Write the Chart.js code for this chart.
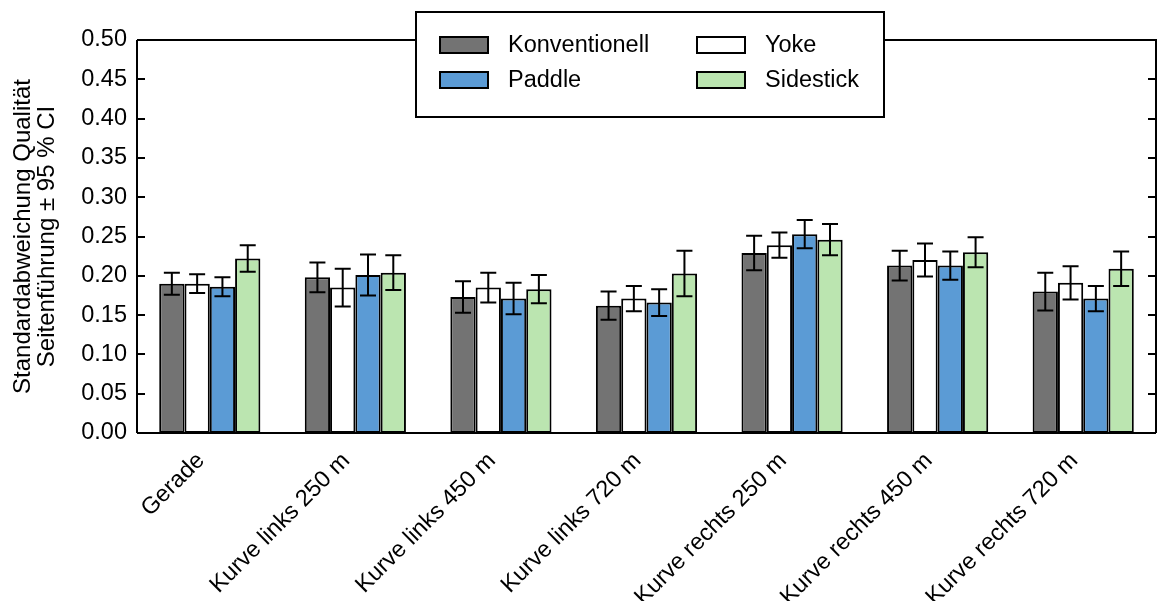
<!DOCTYPE html>
<html>
<head>
<meta charset="utf-8">
<script src="https://cdn.jsdelivr.net/npm/chart.js@4"></script>
<style>
  html, body { margin: 0; padding: 0; background: #fff; }
  #wrap { width: 1158px; height: 601px; }
</style>
</head>
<body>
<div id="wrap"><canvas id="chart" width="1158" height="601"></canvas></div>
<script>
// Data
const categories = ['Gerade', 'Kurve links 250 m', 'Kurve links 450 m', 'Kurve links 720 m',
    'Kurve rechts 250 m', 'Kurve rechts 450 m', 'Kurve rechts 720 m'];

const konventionell = [0.190, 0.198, 0.173, 0.162, 0.229, 0.213, 0.180];
const konventionellCI = [0.014, 0.019, 0.020, 0.018, 0.022, 0.019, 0.024];
const yoke = [0.190, 0.185, 0.185, 0.171, 0.239, 0.220, 0.191];
const yokeCI = [0.012, 0.024, 0.019, 0.016, 0.016, 0.021, 0.021];
const paddle = [0.186, 0.201, 0.171, 0.166, 0.253, 0.213, 0.171];
const paddleCI = [0.012, 0.026, 0.020, 0.017, 0.018, 0.018, 0.016];
const sidestick = [0.222, 0.204, 0.183, 0.203, 0.246, 0.230, 0.209];
const sidestickCI = [0.017, 0.022, 0.018, 0.029, 0.020, 0.019, 0.022];

const yTicks = [0, 0.05, 0.10, 0.15, 0.20, 0.25, 0.30, 0.35, 0.40, 0.45, 0.50];
const yTitle = ['Standardabweichung Qualität', 'Seitenführung \u00b1 95 % CI'];

// legend layout: columns as in the figure
const legendOrder = [['Konventionell', 'Paddle'], ['Yoke', 'Sidestick']];

const FONT = 'Liberation Sans, Arial, Helvetica, sans-serif';

function makeSet(label, data, ci, color) {
    return {
        label: label,
        data: data,
        ci: ci,
        backgroundColor: color,
        borderColor: '#000',
        borderWidth: 2,
        borderSkipped: false,
        categoryPercentage: 0.695,
        barPercentage: 1.0
    };
}

// error bars from the bar elements and the y scale
const errorBars = {
    id: 'errorBars',
    afterDatasetsDraw(chart) {
        const ctx = chart.ctx;
        const y = chart.scales.y;
        ctx.save();
        ctx.strokeStyle = '#000';
        ctx.lineWidth = 2;
        chart.data.datasets.forEach((ds, i) => {
            const meta = chart.getDatasetMeta(i);
            meta.data.forEach((bar, j) => {
                const v = ds.data[j], e = ds.ci[j];
                const yt = y.getPixelForValue(v + e);
                const yb = y.getPixelForValue(v - e);
                const x = bar.x;
                ctx.beginPath();
                ctx.moveTo(x, yt); ctx.lineTo(x, yb);
                ctx.moveTo(x - 8, yt); ctx.lineTo(x + 8, yt);
                ctx.moveTo(x - 8, yb); ctx.lineTo(x + 8, yb);
                ctx.stroke();
            });
        });
        ctx.restore();
    }
};

// top / right spines and inward ticks
const frame = {
    id: 'frame',
    afterDatasetsDraw(chart) {
        const ctx = chart.ctx;
        const a = chart.chartArea;
        const y = chart.scales.y;
        ctx.save();
        ctx.strokeStyle = '#000';
        ctx.lineWidth = 2;
        ctx.beginPath();
        ctx.moveTo(a.left, a.top); ctx.lineTo(a.right, a.top);
        ctx.lineTo(a.right, a.bottom);
        ctx.moveTo(a.left, a.bottom); ctx.lineTo(a.right, a.bottom);
        ctx.moveTo(a.left, a.top); ctx.lineTo(a.left, a.bottom);
        yTicks.forEach(t => {
            const py = Math.round(y.getPixelForValue(t));
            ctx.moveTo(a.left, py); ctx.lineTo(a.left + 8, py);
            ctx.moveTo(a.right, py); ctx.lineTo(a.right - 8, py);
        });
        ctx.stroke();
        ctx.restore();
    }
};

// rotated category labels, right end at the category centre
const xLabels = {
    id: 'xLabels',
    afterDraw(chart) {
        const ctx = chart.ctx;
        const x = chart.scales.x;
        const top = chart.chartArea.bottom;
        ctx.save();
        ctx.font = '23.5px ' + FONT;
        ctx.fillStyle = '#000';
        ctx.textAlign = 'right';
        ctx.textBaseline = 'middle';
        categories.forEach((name, i) => {
            const px = x.getPixelForValue(i);
            ctx.save();
            ctx.translate(px - 9, top + 24);
            ctx.rotate(-Math.PI / 4);
            ctx.fillText(name, 0, 0);
            ctx.restore();
        });
        ctx.restore();
    }
};

// legend box drawn over the plot like in the figure
const boxLegend = {
    id: 'boxLegend',
    afterDraw(chart) {
        const ctx = chart.ctx;
        const bx = 416, by = 12, bw = 468, bh = 105;
        ctx.save();
        ctx.fillStyle = '#fff';
        ctx.fillRect(bx, by, bw, bh);
        ctx.strokeStyle = '#000';
        ctx.lineWidth = 2;
        ctx.strokeRect(bx, by, bw, bh);
        ctx.font = '23.5px ' + FONT;
        ctx.textBaseline = 'middle';
        const colX = [440, 697];
        const rowY = [45, 80];
        legendOrder.forEach((col, c) => {
            col.forEach((name, r) => {
                const ds = chart.data.datasets.find(d => d.label === name);
                ctx.fillStyle = ds.backgroundColor;
                ctx.fillRect(colX[c], rowY[r] - 8, 48, 16);
                ctx.strokeRect(colX[c], rowY[r] - 8, 48, 16);
                ctx.fillStyle = '#000';
                ctx.fillText(name, colX[c] + 68, rowY[r] + 1);
            });
        });
        ctx.restore();
    }
};

const ctx = document.getElementById('chart').getContext('2d');
const chart = new Chart(ctx, {
    type: 'bar',
    data: {
        labels: categories,
        datasets: [
            makeSet('Konventionell', konventionell, konventionellCI, '#737373'),
            makeSet('Yoke', yoke, yokeCI, '#ffffff'),
            makeSet('Paddle', paddle, paddleCI, '#5b9bd5'),
            makeSet('Sidestick', sidestick, sidestickCI, '#bbe5b0')
        ]
    },
    options: {
        responsive: false,
        animation: false,
        layout: { padding: { top: 40, right: 2, left: 0, bottom: 0 } },
        plugins: {
            legend: { display: false },
            tooltip: { enabled: false }
        },
        scales: {
            x: {
                grid: { display: false, drawTicks: false },
                border: { display: false },
                ticks: { display: false },
                afterFit(scale) { scale.height = 168; }
            },
            y: {
                min: 0,
                max: 0.5,
                grid: { display: false, drawTicks: false },
                border: { display: false },
                afterBuildTicks(scale) {
                    scale.ticks = yTicks.map(v => ({ value: v }));
                },
                ticks: {
                    padding: 10,
                    color: '#000',
                    font: { family: FONT, size: 23.5 },
                    callback: v => Number(v).toFixed(2)
                },
                title: {
                    display: true,
                    text: yTitle,
                    color: '#000',
                    padding: { top: 12, bottom: 0 },
                    font: { family: FONT, size: 24, lineHeight: 0.98 }
                },
                afterFit(scale) { scale.width = 137; }
            }
        }
    },
    plugins: [errorBars, frame, xLabels, boxLegend]
});
</script>
</body>
</html>
